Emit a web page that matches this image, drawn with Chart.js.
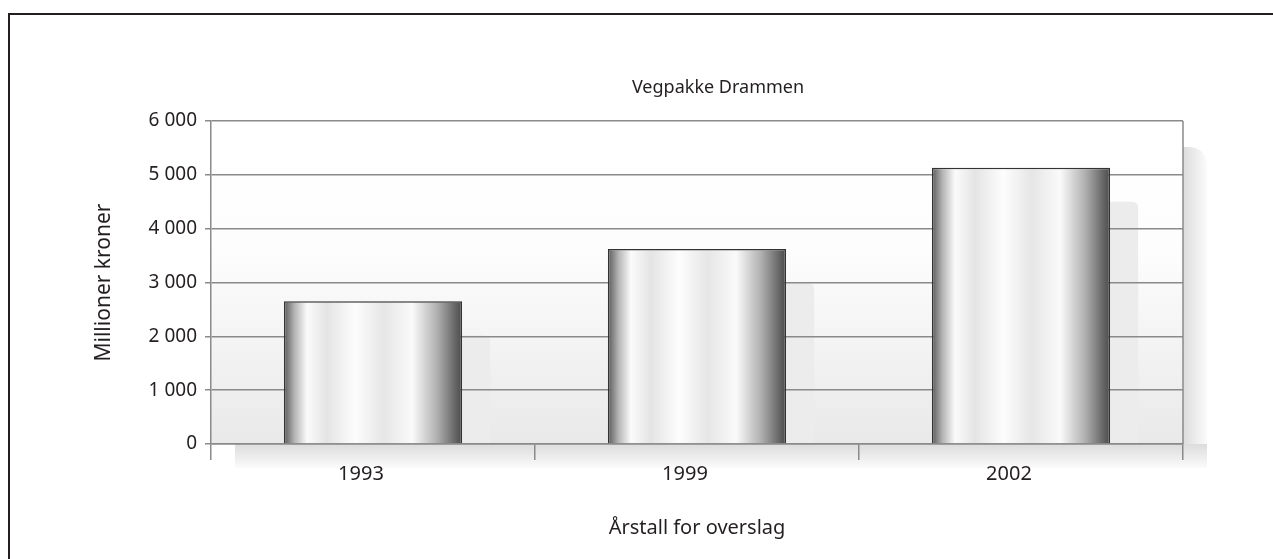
<!DOCTYPE html>
<html>
<head>
<meta charset="utf-8">
<script src="https://cdn.jsdelivr.net/npm/chart.js@4.4.1/dist/chart.umd.min.js"></script>
<style>
  html, body { margin: 0; padding: 0; background: #fff; }
  #frame { position: absolute; left: 8px; top: 13px; width: 2000px; height: 1000px;
           border-left: 2.5px solid #231f20; border-top: 2.5px solid #231f20; }
  #wrap { position: absolute; left: 0; top: 0; width: 1273px; height: 559px; }
</style>
</head>
<body>
<div id="frame"></div>
<div id="wrap"><canvas id="c" width="1273" height="559"></canvas></div>
<script>
// data
const years  = ['1993', '1999', '2002'];
const values = [2650, 3620, 5130];
const yTicks = [0, 1000, 2000, 3000, 4000, 5000, 6000];
const chartTitle = 'Vegpakke Drammen';

const TEXT = '#231f20';
const GRID = '#8a8a8a';
const FONT = "'Noto Sans', 'Open Sans', sans-serif";

function fmt(v) { return String(v).replace(/\B(?=(\d{3})+(?!\d))/g, ' '); }

function roundRect(ctx, x, y, w, h, r) {
  ctx.beginPath();
  ctx.moveTo(x + r, y);
  ctx.lineTo(x + w - r, y);
  ctx.quadraticCurveTo(x + w, y, x + w, y + r);
  ctx.lineTo(x + w, y + h - r);
  ctx.quadraticCurveTo(x + w, y + h, x + w - r, y + h);
  ctx.lineTo(x + r, y + h);
  ctx.quadraticCurveTo(x, y + h, x, y + h - r);
  ctx.lineTo(x, y + r);
  ctx.quadraticCurveTo(x, y, x + r, y);
  ctx.closePath();
}

// metallic gradient per bar, computed from the x scale
function barFill(c) {
  const chart = c.chart;
  const xs = chart.scales.x;
  if (!chart.chartArea || !xs) return '#ddd';
  const cx = xs.getPixelForValue(c.dataIndex);
  const w = (xs.width / years.length) * 0.55;
  const g = chart.ctx.createLinearGradient(cx - w / 2, 0, cx + w / 2, 0);
  g.addColorStop(0.00, '#5a5a5a');
  g.addColorStop(0.06, '#b5b5b5');
  g.addColorStop(0.13, '#fbfbfb');
  g.addColorStop(0.24, '#e4e4e4');
  g.addColorStop(0.40, '#fdfdfd');
  g.addColorStop(0.56, '#e6e6e6');
  g.addColorStop(0.72, '#fafafa');
  g.addColorStop(0.86, '#b0b0b0');
  g.addColorStop(1.00, '#4a4a4a');
  return g;
}

const backdrop = {
  id: 'backdrop',
  beforeDraw(chart) {
    const { ctx, chartArea: a } = chart;
    ctx.save();
    // shadow of the whole plot area
    const sx = a.left + 24, sy = a.top + 26, sw = a.width, sh = a.height + 24;
    ctx.save();
    roundRect(ctx, sx, sy, sw, sh, 20);
    ctx.clip();
    let g = ctx.createLinearGradient(0, a.bottom, 0, a.bottom + 24);
    g.addColorStop(0, '#dcdcdc');
    g.addColorStop(1, '#fbfbfb');
    ctx.fillStyle = g;
    ctx.fillRect(sx, a.bottom, sw, 24);
    g = ctx.createLinearGradient(a.right, 0, a.right + 24, 0);
    g.addColorStop(0, '#dcdcdc');
    g.addColorStop(1, '#fbfbfb');
    ctx.fillStyle = g;
    ctx.fillRect(a.right, sy, 24, a.bottom - sy);
    ctx.restore();

    // plot background
    g = ctx.createLinearGradient(0, a.top, 0, a.bottom);
    g.addColorStop(0, '#ffffff');
    g.addColorStop(0.4, '#fdfdfd');
    g.addColorStop(1, '#e9e9e9');
    ctx.fillStyle = g;
    ctx.fillRect(a.left, a.top, a.width, a.height);

    // shadows behind the bars
    const meta = chart.getDatasetMeta(0);
    ctx.fillStyle = '#ececec';
    meta.data.forEach(el => {
      const left = el.x - el.width / 2;
      const right = el.x + el.width / 2 + 28;
      const top = el.y + 34;
      ctx.beginPath();
      ctx.moveTo(left, el.base);
      ctx.lineTo(left, top);
      ctx.lineTo(right - 6, top);
      ctx.quadraticCurveTo(right, top, right, top + 6);
      ctx.lineTo(right, el.base);
      ctx.closePath();
      ctx.fill();
    });
    ctx.restore();
  },
  afterDraw(chart) {
    const { ctx, chartArea: a } = chart;
    ctx.save();
    ctx.strokeStyle = GRID;
    ctx.lineWidth = 1.5;
    ctx.beginPath();
    ctx.moveTo(a.right, a.top);
    ctx.lineTo(a.right, a.bottom);
    ctx.stroke();
    // chart title
    ctx.fillStyle = TEXT;
    ctx.font = '18px ' + FONT;
    ctx.textAlign = 'center';
    ctx.textBaseline = 'middle';
    ctx.fillText(chartTitle, (a.left + a.right) / 2 + 21, a.top - 33);
    ctx.restore();
  }
};

new Chart(document.getElementById('c'), {
  type: 'bar',
  data: {
    labels: years,
    datasets: [{
      data: values,
      backgroundColor: barFill,
      borderColor: '#333333',
      borderWidth: 1.5,
      barPercentage: 0.55,
      categoryPercentage: 1
    }]
  },
  options: {
    responsive: false,
    animation: false,
    layout: { padding: { left: 0, right: 90, top: 121, bottom: 0 } },
    plugins: {
      legend: { display: false },
      tooltip: { enabled: false },
      title: { display: false }
    },
    scales: {
      x: {
        offset: true,
        grid: { offset: true, drawOnChartArea: false, tickLength: 16, color: GRID, lineWidth: 1.5 },
        border: { color: GRID, width: 1.5 },
        ticks: { color: TEXT, font: { family: FONT, size: 20 }, padding: 2, labelOffset: -12 },
        title: { display: true, text: 'Årstall for overslag', color: TEXT,
                 font: { family: FONT, size: 20 }, padding: { top: 0, bottom: 19 } },
        afterFit: s => { s.height = 115; }
      },
      y: {
        min: 0, max: 6000,
        afterBuildTicks: s => { s.ticks = yTicks.map(v => ({ value: v })); },
        grid: { color: GRID, lineWidth: 1.5, tickLength: 6 },
        border: { color: GRID, width: 1.5 },
        ticks: { color: TEXT, font: { family: FONT, size: 19 }, padding: 8, callback: v => fmt(v) },
        title: { display: true, text: 'Millioner kroner', color: TEXT,
                 font: { family: FONT, size: 21 }, padding: { top: 91, bottom: 0 } },
        afterFit: s => { s.width = 211; }
      }
    }
  },
  plugins: [backdrop]
});
</script>
</body>
</html>
